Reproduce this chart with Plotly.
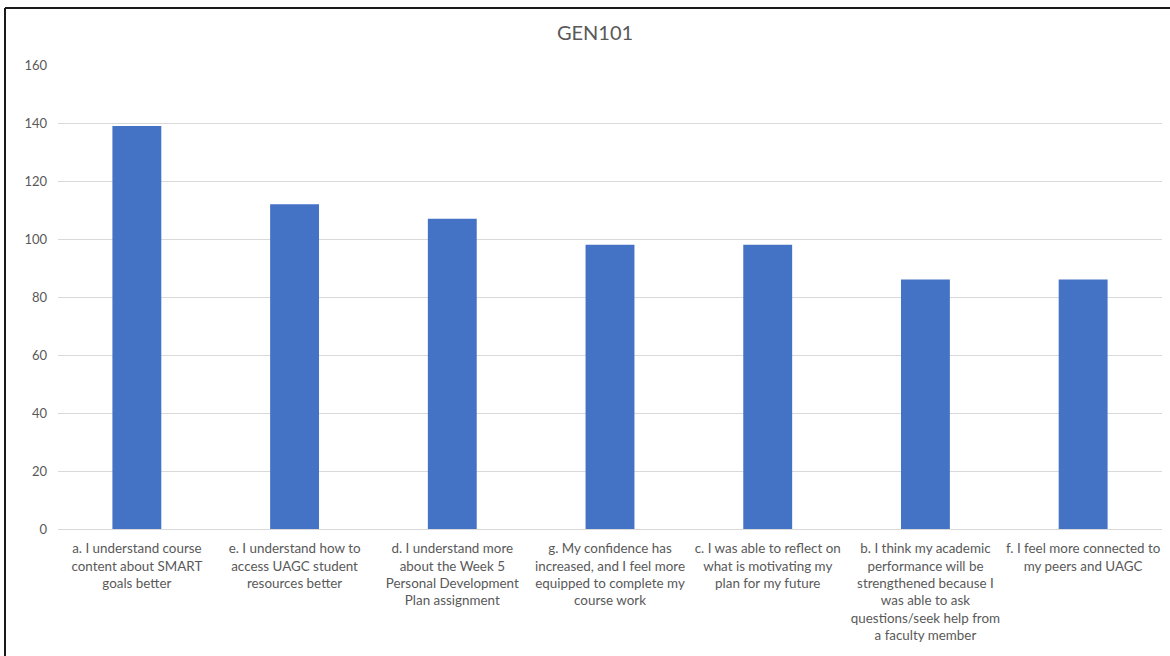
import plotly.graph_objects as go

# Survey statements (category labels, pre-wrapped) and response counts
categories = [
    "a. I understand course<br>content about SMART<br>goals better",
    "e. I understand how to<br>access UAGC student<br>resources better",
    "d. I understand more<br>about the Week 5<br>Personal Development<br>Plan assignment",
    "g. My confidence has<br>increased, and I feel more<br>equipped to complete my<br>course work",
    "c. I was able to reflect on<br>what is motivating my<br>plan for my future",
    "b. I think my academic<br>performance will be<br>strengthened because I<br>was able to ask<br>questions/seek help from<br>a faculty member",
    "f. I feel more connected to<br>my peers and UAGC",
]
counts = [139, 112, 107, 98, 98, 86, 86]
y_ticks = [0, 20, 40, 60, 80, 100, 120, 140, 160]

W, H = 1170, 656
L, R, T, B = 58, 8, 65, 127
pw, ph = W - L - R, H - T - B

fig = go.Figure(
    go.Bar(
        x=list(range(len(categories))),
        y=counts,
        marker=dict(color="#4472C4", line=dict(width=0)),
        width=0.31,
        hoverinfo="y",
    )
)

font_family = "Lato, 'Open Sans', sans-serif"

fig.update_layout(
    width=W,
    height=H,
    margin=dict(l=L, r=R, t=T, b=B, autoexpand=False),
    paper_bgcolor="white",
    plot_bgcolor="white",
    showlegend=False,
    font=dict(family=font_family, color="#595959", size=13),
    title=dict(
        text="GEN101",
        x=(595 - L) / pw,
        xref="paper",
        xanchor="center",
        y=1 - 33 / H,
        yanchor="middle",
        font=dict(size=20, color="#595959", family=font_family),
    ),
    xaxis=dict(
        tickmode="array",
        tickvals=list(range(len(categories))),
        ticktext=categories,
        range=[-0.5, len(categories) - 0.5],
        showgrid=False,
        showline=True,
        linecolor="#d9d9d9",
        linewidth=1,
        ticks="",
        tickangle=0,
        ticklabelstandoff=7,
        tickfont=dict(size=13.4, color="#595959"),
        zeroline=False,
    ),
    yaxis=dict(
        range=[0, 160],
        tickmode="array",
        tickvals=y_ticks,
        showgrid=True,
        gridcolor="#d9d9d9",
        gridwidth=1,
        zeroline=False,
        showline=False,
        ticks="",
        ticklabelstandoff=10,
        tickfont=dict(size=13, color="#595959"),
    ),
)

# Dark frame along the top and left edges of the chart area
x_left = (5 - L) / pw
y_top = (H - B - 8) / ph
fig.add_shape(type="line", xref="paper", yref="paper",
              x0=x_left, x1=(W - L + 5) / pw, y0=y_top, y1=y_top,
              line=dict(color="#1a1a1a", width=2))
fig.add_shape(type="line", xref="paper", yref="paper",
              x0=x_left, x1=x_left, y0=y_top, y1=-(B + 5) / ph,
              line=dict(color="#1a1a1a", width=2))

fig.write_html("out.html")
